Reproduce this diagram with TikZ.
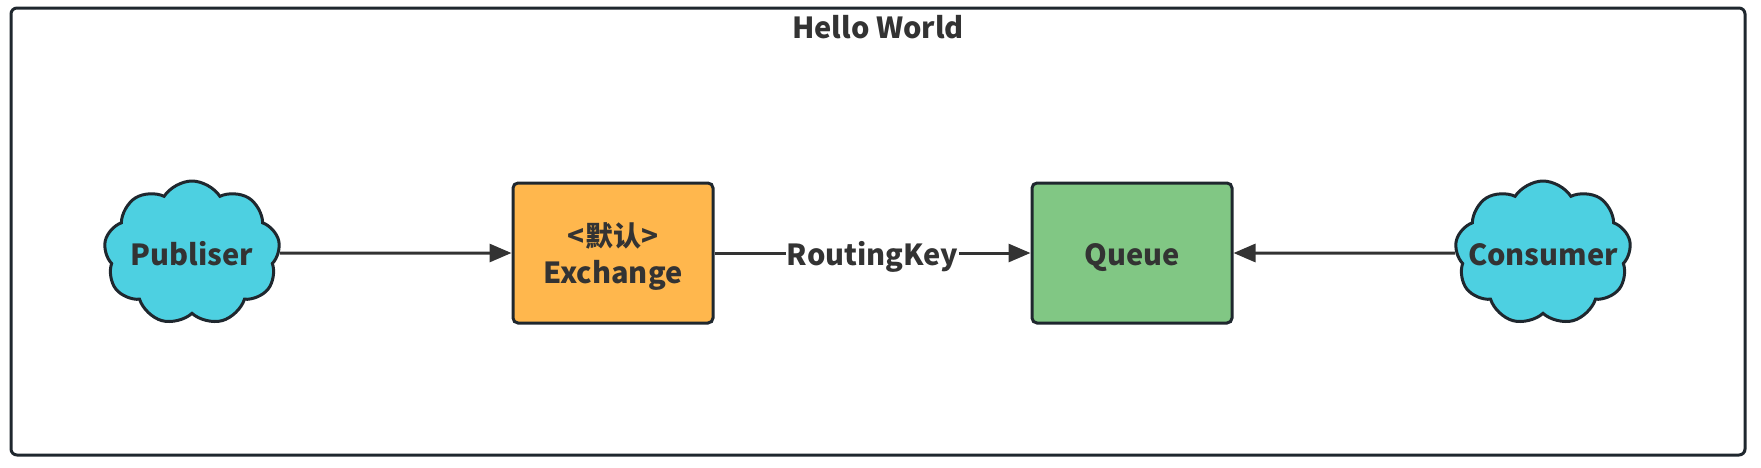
\documentclass[tikz,border=0pt]{standalone}
\usepackage{fontspec}
\setmainfont{Noto Sans CJK SC}
\usetikzlibrary{shapes.symbols,arrows.meta}
\definecolor{edgec}{HTML}{1F272E}
\definecolor{txtc}{HTML}{333333}
\definecolor{cloudc}{HTML}{4DD0E1}
\definecolor{exc}{HTML}{FFB74D}
\definecolor{quc}{HTML}{81C784}
\tikzset{
  lbl/.style={font=\fontsize{29}{34}\selectfont\bfseries, text=txtc, inner sep=0pt, anchor=base},
  boxnode/.style={draw=edgec, line width=3pt, rounded corners=5pt, minimum width=200pt, minimum height=140pt, inner sep=0pt},
  cloudnode/.style={cloud, cloud puffs=9, cloud puff arc=115, cloud ignores aspect, draw=edgec, line width=3pt, fill=cloudc, minimum width=176pt, minimum height=144pt, inner sep=0pt},
  conn/.style={draw=txtc, line width=3pt, -{Triangle[length=22pt,width=18pt]}},
}
\begin{document}
\begin{tikzpicture}[x=1pt,y=-1pt]
\useasboundingbox (0,0) rectangle (1761,467);
\draw[edgec, line width=3pt, rounded corners=6pt] (11,8) rectangle (1745,455);
\node[lbl] (title) at (878,38) {Hello World};
\node[cloudnode] (pub) at (192,253) {};
\node[lbl] (publbl) at ([yshift=-12pt]pub.center) {Publiser};
\node[boxnode, fill=exc] (ex) at (613,253) {};
\node[lbl, font=\fontsize{28}{34}\selectfont\bfseries] (exl1) at ([yshift=7pt]ex.center) {<默认>};
\node[lbl] (exl2) at ([yshift=-30pt]ex.center) {Exchange};
\node[boxnode, fill=quc] (qu) at (1132,253) {};
\node[lbl] (qulbl) at ([yshift=-12pt]qu.center) {Queue};
\node[cloudnode] (con) at (1543,253) {};
\node[lbl] (conlbl) at ([yshift=-12pt]con.center) {Consumer};
\draw[conn] (pub) -- (ex);
\draw[conn] (ex) -- coordinate[midway] (mid) (qu);
\node[lbl, fill=white, inner sep=1pt] (rk) at ([yshift=-12pt]mid) {RoutingKey};
\draw[conn] (con) -- (qu);
\end{tikzpicture}
\end{document}
